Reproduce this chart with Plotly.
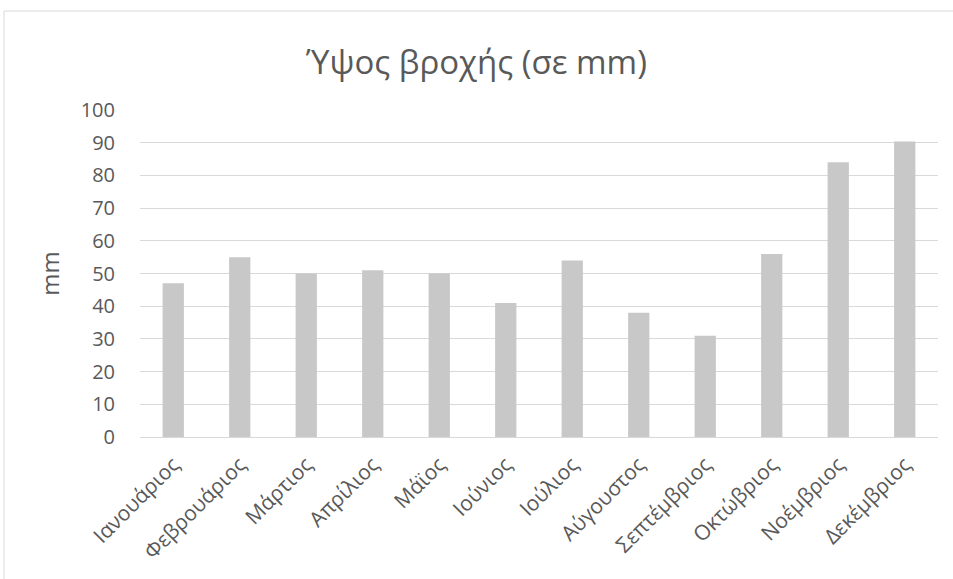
import plotly.graph_objects as go

months = ["Ιανουάριος", "Φεβρουάριος", "Μάρτιος", "Απρίλιος", "Μάϊος", "Ιούνιος",
          "Ιούλιος", "Αύγουστος", "Σεπτέμβριος", "Οκτώβριος", "Νοέμβριος", "Δεκέμβριος"]
rain_mm = [47, 55, 50, 51, 50, 41, 54, 38, 31, 56, 84, 90.4]
y_ticks = list(range(0, 101, 10))

W, H = 953, 579
L, R, T, B = 140, 15, 110, 142
pw, ph = W - L - R, H - T - B

fig = go.Figure(go.Bar(x=months, y=rain_mm, marker=dict(color="#c8c8c8", line=dict(width=0))))

def px_x(p):
    return (p - L) / pw

def px_y(p):
    return (H - B - p) / ph

fig.update_layout(
    width=W, height=H,
    margin=dict(l=L, r=R, t=T, b=B),
    paper_bgcolor="white", plot_bgcolor="white",
    bargap=0.68,
    font=dict(family="Open Sans, Liberation Sans, sans-serif", color="#595959"),
    title=dict(text="Ύψος βροχής (σε mm)", x=0.5, xref="container", xanchor="center",
               y=1 - 62 / H, yanchor="middle",
               font=dict(size=33, color="#595959")),
    showlegend=False,
    xaxis=dict(tickangle=-45, tickfont=dict(size=21, color="#595959"),
               showline=True, linecolor="#d9d9d9", linewidth=1,
               ticks="outside", ticklen=6, tickcolor="rgba(0,0,0,0)",
               showgrid=False),
    yaxis=dict(range=[0, 100], tickvals=y_ticks, tickfont=dict(size=20, color="#595959"),
               showgrid=True, gridcolor="#d9d9d9", gridwidth=1, zeroline=False,
               ticks="outside", ticklen=20, tickcolor="rgba(0,0,0,0)", showline=False,
               title=dict(text="mm", font=dict(size=24, color="#595959"), standoff=14)),
    shapes=[
        dict(type="line", xref="paper", yref="paper", x0=px_x(4), x1=px_x(960),
             y0=px_y(11), y1=px_y(11), line=dict(color="#d9d9d9", width=1)),
        dict(type="line", xref="paper", yref="paper", x0=px_x(4), x1=px_x(4),
             y0=px_y(11), y1=px_y(590), line=dict(color="#d9d9d9", width=1)),
    ],
)

fig.write_html("out.html")
